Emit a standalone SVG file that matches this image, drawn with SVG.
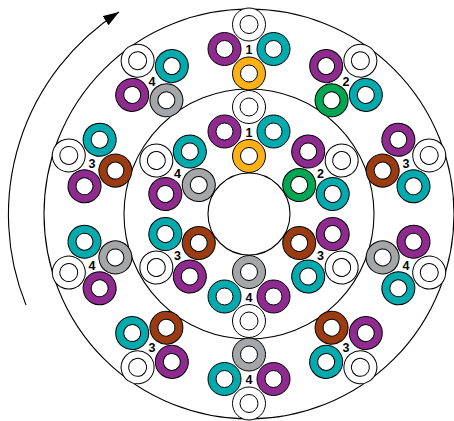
<svg xmlns="http://www.w3.org/2000/svg" xmlns:xlink="http://www.w3.org/1999/xlink" width="454" height="421" viewBox="0 0 454 421">
<style>
.ln{fill:none;stroke:#000;stroke-width:1.1}
.rg circle{stroke:#000;stroke-width:1}
.lbl{font-family:"Liberation Sans",Arial,sans-serif;font-size:12.5px;font-weight:bold;text-anchor:middle;fill:#000}
</style>
<defs>
<marker id="ah" markerUnits="userSpaceOnUse" markerWidth="16" markerHeight="11" refX="16" refY="5.5" orient="auto"><path d="M0,0 L16,5.5 L0,11 Z" fill="#000"/></marker>
<g id="rw" class="rg"><circle r="16.5" fill="#fff"/><circle r="9" fill="#fff"/></g>
<g id="rp" class="rg"><circle r="16.5" fill="#8F2B8F"/><circle r="8.5" fill="#fff"/></g>
<g id="rt" class="rg"><circle r="16.5" fill="#00AAAD"/><circle r="8.5" fill="#fff"/></g>
<g id="r1" class="rg"><circle r="16.5" fill="#FDB115"/><circle r="8.5" fill="#fff"/></g>
<g id="r2" class="rg"><circle r="16.5" fill="#00A651"/><circle r="8.5" fill="#fff"/></g>
<g id="r3" class="rg"><circle r="16.5" fill="#9A3B12"/><circle r="8.5" fill="#fff"/></g>
<g id="r4" class="rg"><circle r="16.5" fill="#A4A6A8"/><circle r="8.5" fill="#fff"/></g>
</defs>
<g id="rings">
<circle class="ln" cx="249" cy="214" r="205"/>
<circle class="ln" cx="249" cy="214" r="125"/>
<circle class="ln" cx="249" cy="214" r="41"/>
</g>
<g id="connectors">
<path class="ln" d="M26,305 A241 241 0 0 1 119,12" stroke-width="1.3" marker-end="url(#ah)"/>
</g>
<g transform="translate(249,214)">
<!-- outer clusters -->
<g id="o0" transform="rotate(0) translate(0,-165)"><use href="#rw" y="-24.5"/><use href="#rp" x="-24.5"/><use href="#rt" x="24.5"/><use href="#r1" y="24.5"/><text class="lbl" transform="rotate(0)" y="5">1</text></g>
<g id="o36" transform="rotate(36) translate(0,-165)"><use href="#rw" y="-24.5"/><use href="#rp" x="-24.5"/><use href="#rt" x="24.5"/><use href="#r2" y="24.5"/><text class="lbl" transform="rotate(-36)" y="5">2</text></g>
<g id="o72" transform="rotate(72) translate(0,-165)"><use href="#rw" y="-24.5"/><use href="#rp" x="-24.5"/><use href="#rt" x="24.5"/><use href="#r3" y="24.5"/><text class="lbl" transform="rotate(-72)" y="5">3</text></g>
<g id="o108" transform="rotate(108) translate(0,-165)"><use href="#rw" y="-24.5"/><use href="#rp" x="-24.5"/><use href="#rt" x="24.5"/><use href="#r4" y="24.5"/><text class="lbl" transform="rotate(-108)" y="5">4</text></g>
<g id="o144" transform="rotate(144) translate(0,-165)"><use href="#rw" y="-24.5"/><use href="#rp" x="-24.5"/><use href="#rt" x="24.5"/><use href="#r3" y="24.5"/><text class="lbl" transform="rotate(-144)" y="5">3</text></g>
<g id="o180" transform="rotate(180) translate(0,-165)"><use href="#rw" y="-24.5"/><use href="#rp" x="-24.5"/><use href="#rt" x="24.5"/><use href="#r4" y="24.5"/><text class="lbl" transform="rotate(-180)" y="5">4</text></g>
<g id="o216" transform="rotate(216) translate(0,-165)"><use href="#rw" y="-24.5"/><use href="#rp" x="-24.5"/><use href="#rt" x="24.5"/><use href="#r3" y="24.5"/><text class="lbl" transform="rotate(-216)" y="5">3</text></g>
<g id="o252" transform="rotate(252) translate(0,-165)"><use href="#rw" y="-24.5"/><use href="#rp" x="-24.5"/><use href="#rt" x="24.5"/><use href="#r4" y="24.5"/><text class="lbl" transform="rotate(-252)" y="5">4</text></g>
<g id="o288" transform="rotate(288) translate(0,-165)"><use href="#rw" y="-24.5"/><use href="#rp" x="-24.5"/><use href="#rt" x="24.5"/><use href="#r3" y="24.5"/><text class="lbl" transform="rotate(-288)" y="5">3</text></g>
<g id="o324" transform="rotate(324) translate(0,-165)"><use href="#rw" y="-24.5"/><use href="#rp" x="-24.5"/><use href="#rt" x="24.5"/><use href="#r4" y="24.5"/><text class="lbl" transform="rotate(-324)" y="5">4</text></g>
<!-- inner clusters -->
<g id="i0" transform="rotate(0) translate(0,-82.5)"><use href="#rw" y="-24.5"/><use href="#rp" x="-24.5"/><use href="#rt" x="24.5"/><use href="#r1" y="24.5"/><text class="lbl" transform="rotate(0)" y="5">1</text></g>
<g id="i60" transform="rotate(60) translate(0,-82.5)"><use href="#rw" y="-24.5"/><use href="#rp" x="-24.5"/><use href="#rt" x="24.5"/><use href="#r2" y="24.5"/><text class="lbl" transform="rotate(-60)" y="5">2</text></g>
<g id="i120" transform="rotate(120) translate(0,-82.5)"><use href="#rw" y="-24.5"/><use href="#rp" x="-24.5"/><use href="#rt" x="24.5"/><use href="#r3" y="24.5"/><text class="lbl" transform="rotate(-120)" y="5">3</text></g>
<g id="i180" transform="rotate(180) translate(0,-82.5)"><use href="#rw" y="-24.5"/><use href="#rp" x="-24.5"/><use href="#rt" x="24.5"/><use href="#r4" y="24.5"/><text class="lbl" transform="rotate(-180)" y="5">4</text></g>
<g id="i240" transform="rotate(240) translate(0,-82.5)"><use href="#rw" y="-24.5"/><use href="#rp" x="-24.5"/><use href="#rt" x="24.5"/><use href="#r3" y="24.5"/><text class="lbl" transform="rotate(-240)" y="5">3</text></g>
<g id="i300" transform="rotate(300) translate(0,-82.5)"><use href="#rw" y="-24.5"/><use href="#rp" x="-24.5"/><use href="#rt" x="24.5"/><use href="#r4" y="24.5"/><text class="lbl" transform="rotate(-300)" y="5">4</text></g>
</g>
</svg>
